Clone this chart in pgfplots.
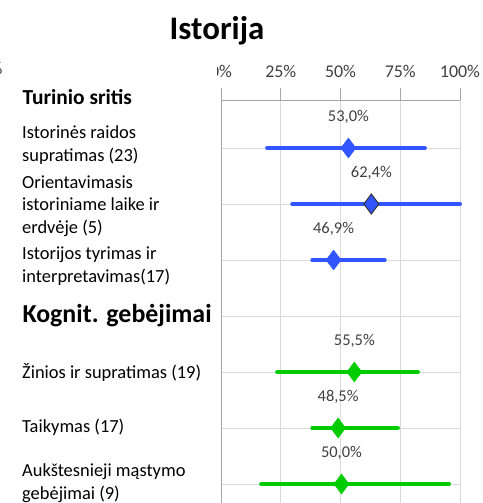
\documentclass[border=0pt]{standalone}
\usepackage{pgfplots}
\pgfplotsset{compat=1.18}
\usepackage{fontspec}
\setmainfont{Carlito}
\definecolor{bl}{HTML}{3355FF}
\definecolor{gr}{HTML}{00CC00}
\definecolor{txt}{HTML}{404040}
\definecolor{grd}{HTML}{D9D9D9}

\begin{document}
\begin{tikzpicture}[x=1bp,y=1bp]
  \useasboundingbox (0,0) rectangle (483,-503);
  \begin{axis}[at={(221bp,-100bp)}, anchor=north west, scale only axis,
      width=239bp, height=403bp,
      xmin=0, xmax=100, ymin=0.143, ymax=7.34, y dir=reverse,
      axis x line=top, axis y line=left,
      x axis line style={-, draw=gray!70, line width=0.8pt},
      y axis line style={-, draw=gray!70, line width=0.8pt},
      xtick={0,25,50,75,100}, xticklabels={0\%,25\%,50\%,75\%,100\%},
      tick align=outside, major tick length=12bp,
      xtick style={draw=gray!70, line width=0.8pt},
      xticklabel style={yshift=7bp},
      ytick={1,2,3,4,5,6,7}, yticklabels={}, ytick style={draw=none},
      xmajorgrids, ymajorgrids, grid style={grd, line width=0.8pt},
      every tick label/.append style={font=\fontsize{18}{20}\selectfont, text=txt},
      /pgf/number format/assume math mode=true,
      clip=false]
    % blue: content areas
    \addplot[bl, line width=4bp, line cap=round, mark=none, forget plot]
      coordinates {(19.3,1) (85.3,1)};
    \addplot[bl, line width=4bp, line cap=round, mark=none, forget plot]
      coordinates {(29.8,2) (100,2)};
    \addplot[bl, line width=4bp, line cap=round, mark=none, forget plot]
      coordinates {(38.2,3) (68.5,3)};
    % green: cognitive skills
    \addplot[gr, line width=4bp, line cap=round, mark=none, forget plot]
      coordinates {(23.5,5) (82.4,5)};
    \addplot[gr, line width=4bp, line cap=round, mark=none, forget plot]
      coordinates {(38.2,6) (74.0,6)};
    \addplot[gr, line width=4bp, line cap=round, mark=none, forget plot]
      coordinates {(16.8,7) (95.4,7)};
    % means with labels
    \pgfplotsset{lbl/.style={nodes near coords, point meta=explicit symbolic,
      every node near coord/.style={font=\fontsize{16.5}{18}\selectfont, text=txt, anchor=center, yshift=31bp}}}
    \addplot[only marks, mark=diamond*, mark size=10bp, mark options={draw=bl, fill=bl}, lbl]
      coordinates {(53.3,1) [53,0\%] (47.1,3) [46,9\%]};
    \addplot[only marks, mark=diamond*, mark size=10bp, mark options={draw=black!80, fill=bl, line width=1pt}, lbl]
      coordinates {(62.9,2) [62,4\%]};
    \addplot[only marks, mark=diamond*, mark size=10bp, mark options={draw=gr, fill=gr}, lbl]
      coordinates {(55.8,5) [55,5\%] (49.0,6) [48,5\%] (50.4,7) [50,0\%]};
  \end{axis}
  \fill[white] (195,-58) rectangle (217,-84);
  \node[anchor=east] at (6,-68) {\fontsize{18}{20}\selectfont\color{txt}\%};
  \node[font=\bfseries\fontsize{33}{36}\selectfont] at (217,-31) {Istorija};
  \node[anchor=west, font=\bfseries\fontsize{21.5}{24}\selectfont] at (19,-97) {Turinio sritis};
  \node[anchor=west, font=\bfseries\fontsize{26}{28}\selectfont] at (19,-316) {Kognit. gebėjimai};
  \tikzset{lab/.style={anchor=west, align=left, font=\fontsize{18.5}{22.5}\selectfont, inner xsep=0pt}}
  \node[lab] at (22,-145) {Istorinės raidos\\supratimas (23)};
  \node[lab] at (22,-206) {Orientavimasis\\istoriniame laike ir\\erdvėje (5)};
  \node[lab] at (22,-266) {Istorijos tyrimas ir\\interpretavimas(17)};
  \node[lab] at (22,-372) {Žinios ir supratimas (19)};
  \node[lab] at (22,-427) {Taikymas (17)};
  \node[lab] at (22,-483) {Aukštesnieji mąstymo\\gebėjimai (9)};
\end{tikzpicture}
\end{document}
